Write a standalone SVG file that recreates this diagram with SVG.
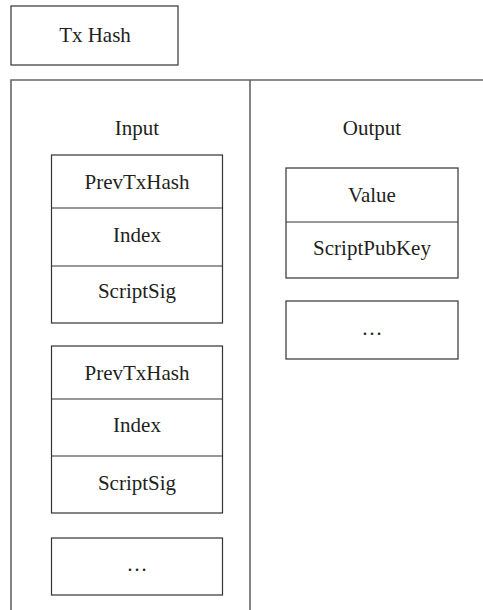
<svg xmlns="http://www.w3.org/2000/svg" width="483" height="610" viewBox="0 0 483 610">
<style>
.box{fill:#fff;stroke:#333;stroke-width:1.2}
.frame{fill:none;stroke:#666;stroke-width:1.6}
.div{stroke:#333;stroke-width:1.2}
text{font-family:"Liberation Serif","Times New Roman",serif;font-size:21px;fill:#231f20;text-anchor:middle}
</style>
<rect width="483" height="610" fill="#fff"/>
<g id="txhash">
<rect class="box" x="11" y="6" width="167" height="59"/>
<text x="95" y="41.5">Tx Hash</text>
</g>
<g id="frame">
<path class="frame" d="M11,610 V80 H483 M250,80 V610"/>
</g>
<g id="input-label"><text x="137" y="135">Input</text></g>
<g id="output-label"><text x="372" y="135">Output</text></g>
<g id="input1">
<rect class="box" x="51.5" y="155" width="171" height="168"/>
<line class="div" x1="51.5" y1="208" x2="222.5" y2="208"/>
<line class="div" x1="51.5" y1="266" x2="222.5" y2="266"/>
<text x="137" y="189">PrevTxHash</text>
<text x="137" y="241.5">Index</text>
<text x="137" y="298">ScriptSig</text>
</g>
<g id="input2">
<rect class="box" x="51.5" y="346" width="171" height="167"/>
<line class="div" x1="51.5" y1="399" x2="222.5" y2="399"/>
<line class="div" x1="51.5" y1="456" x2="222.5" y2="456"/>
<text x="137" y="380">PrevTxHash</text>
<text x="137" y="432">Index</text>
<text x="137" y="490">ScriptSig</text>
</g>
<g id="input-more">
<rect class="box" x="51.5" y="538" width="171" height="57"/>
<text x="137" y="571">…</text>
</g>
<g id="output1">
<rect class="box" x="286" y="168" width="172" height="110"/>
<line class="div" x1="286" y1="222" x2="458" y2="222"/>
<text x="372" y="201.5">Value</text>
<text x="372" y="255">ScriptPubKey</text>
</g>
<g id="output-more">
<rect class="box" x="286" y="301" width="172" height="58"/>
<text x="372" y="334.5">…</text>
</g>
<g id="connectors"></g>
</svg>
